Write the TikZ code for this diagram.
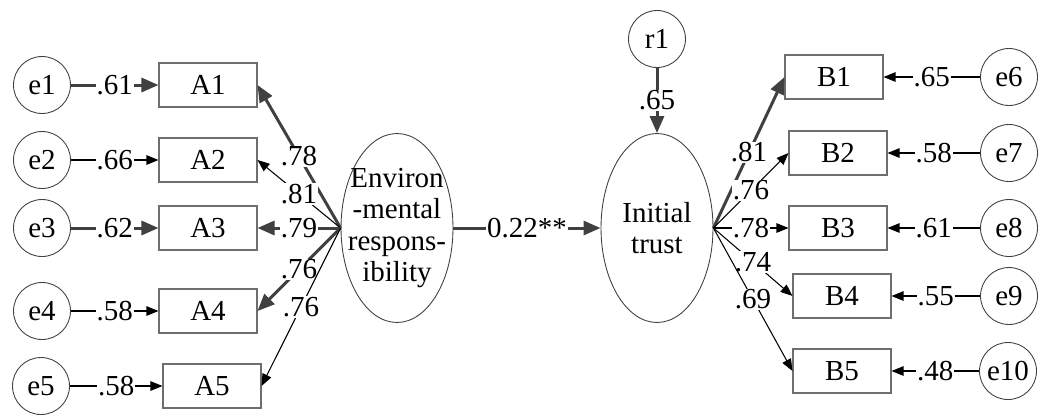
\documentclass[tikz,border=0pt]{standalone}
\usepackage{fontspec}
\setmainfont{Liberation Serif}
\usetikzlibrary{arrows.meta,shapes.geometric}
\usepackage{xcolor}
\definecolor{pathgray}{HTML}{404040}
\definecolor{boxgray}{HTML}{6E6E6E}

\begin{document}
\begin{tikzpicture}[x=0.02cm, y=-0.02cm,
  every node/.style={font=\fontsize{16.5}{17.8}\selectfont},
  obs/.style={draw=boxgray, line width=0.6pt, minimum width=1.96cm, minimum height=0.88cm, inner sep=0pt},
  err/.style={circle, draw=black!75, line width=0.5pt, minimum size=1.14cm, inner sep=0pt},
  lat/.style={ellipse, draw=black!75, line width=0.5pt, minimum width=2.24cm, minimum height=3.78cm, inner sep=0pt},
  thinpath/.style={line width=0.6pt, -{Triangle[length=0.24cm, width=0.19cm]}},
  thickpath/.style={pathgray, line width=1.7pt, -{Triangle[length=0.34cm, width=0.28cm]}},
  coef/.style={fill=white, inner sep=0.6pt, text=black}]

  % Frame (reference proportions)
  \useasboundingbox (0,0) rectangle (1038,417);

  % Latent variables
  \node[lat, label={[align=center]center:Environ\\-mental\\respons-\\ibility}] (ER) at (397,228) {};
  \node[lat, label={[align=center]center:Initial\\trust}] (IT) at (657,228) {};
  \node[err] (r1) at (657,39) {r1};

  % Indicators of environmental responsibility
  \node[obs] (A1) at (208,85)  {A1};
  \node[obs] (A2) at (208,160) {A2};
  \node[obs] (A3) at (208,228) {A3};
  \node[obs] (A4) at (208,311) {A4};
  \node[obs] (A5) at (212,386) {A5};

  \node[err] (e1) at (42,85)  {e1};
  \node[err] (e2) at (42,160) {e2};
  \node[err] (e3) at (42,228) {e3};
  \node[err] (e4) at (42,311) {e4};
  \node[err] (e5) at (41,386) {e5};

  % Indicators of initial trust
  \node[obs] (B1) at (834,77)  {B1};
  \node[obs] (B2) at (838,153) {B2};
  \node[obs] (B3) at (838,228) {B3};
  \node[obs] (B4) at (842,296) {B4};
  \node[obs] (B5) at (842,371) {B5};

  \node[err] (e6)  at (1009,77)  {e6};
  \node[err] (e7)  at (1009,153) {e7};
  \node[err] (e8)  at (1009,228) {e8};
  \node[err] (e9)  at (1009,296) {e9};
  \node[err] (e10) at (1008,371) {e10};

  % Structural path and disturbance
  \draw[thickpath] (ER) -- node[coef] {0.22**} (IT);
  \draw[thickpath] (r1) -- node[coef] {.65} (IT);

  % Loadings, left fan
  \draw[thickpath] (ER.west) -- node[coef] {.78} (A1.east);
  \draw[thinpath]  (ER.west) -- node[coef] {.81} (A2.east);
  \draw[thickpath] (ER.west) -- node[coef] {.79} (A3.east);
  \draw[thickpath] (ER.west) -- node[coef] {.76} (A4.east);
  \draw[thinpath]  (ER.west) -- node[coef] {.76} (A5.east);

  % Loadings, right fan
  \draw[thickpath] (IT.east) -- node[coef] {.81} (B1.west);
  \draw[thinpath]  (IT.east) -- node[coef] {.76} (B2.west);
  \draw[thinpath]  (IT.east) -- node[coef] {.78} (B3.west);
  \draw[thinpath]  (IT.east) -- node[coef] {.74} (B4.west);
  \draw[thinpath]  (IT.east) -- node[coef] {.69} (B5.west);

  % Measurement errors
  \draw[thickpath] (e1) -- node[coef] {.61} (A1);
  \draw[thinpath]  (e2) -- node[coef] {.66} (A2);
  \draw[thickpath] (e3) -- node[coef] {.62} (A3);
  \draw[thinpath]  (e4) -- node[coef] {.58} (A4);
  \draw[thinpath]  (e5) -- node[coef] {.58} (A5);

  \draw[thinpath] (e6)  -- node[coef] {.65} (B1);
  \draw[thinpath] (e7)  -- node[coef] {.58} (B2);
  \draw[thinpath] (e8)  -- node[coef] {.61} (B3);
  \draw[thinpath] (e9)  -- node[coef] {.55} (B4);
  \draw[thinpath] (e10) -- node[coef] {.48} (B5);
\end{tikzpicture}
\end{document}
